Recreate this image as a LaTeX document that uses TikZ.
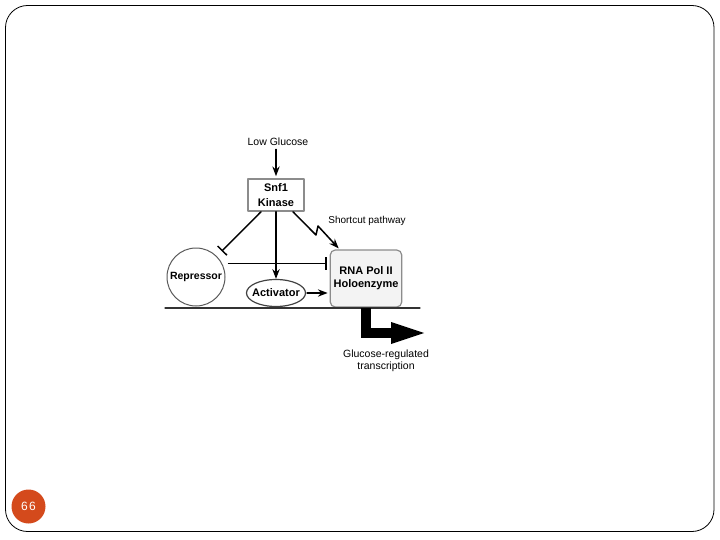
\documentclass[tikz,border=0pt]{standalone}
\usepackage{fontspec}
\setmainfont{Liberation Sans}
\usetikzlibrary{arrows.meta,shapes.geometric}
\definecolor{slidered}{HTML}{D44A1C}
\definecolor{boxgray}{HTML}{8C8C8C}
\definecolor{polfill}{HTML}{F3F3F3}

\begin{document}
\begin{tikzpicture}[x=1pt, y=-1pt, >=Stealth, line cap=round, line join=round,
    lbl/.style={font=\fontsize{10}{12}\selectfont},
    bold/.style={font=\fontsize{10.5}{14}\selectfont\bfseries},
    act/.style={->, line width=1.5pt},
    inhibit/.style={-{Bar[width=13pt, line width=1.5pt]}, line width=1.5pt}]
  \useasboundingbox (0,0) rectangle (720,540);

  % Slide frame and page number
  \draw[line width=0.8pt, rounded corners=22pt] (5.5,5.5) rectangle (714,531.5);
  \node[circle, fill=slidered, minimum size=34pt, inner sep=0pt, text=white,
        font=\fontsize{12}{13}\selectfont] (pg) at (28.5,506.5) {6\hspace{1.5pt}6};

  % Nodes
  \node[lbl, font=\fontsize{10.5}{12}\selectfont] (lowglc) at (278,142) {Low Glucose};
  \node[draw=boxgray, line width=1.6pt, align=center, inner sep=0pt,
        minimum width=56pt, minimum height=32pt,
        font=\fontsize{11}{15}\selectfont\bfseries] (snf) at (276,195) {Snf1\\Kinase};
  \node[circle, draw=black!65, line width=1pt, inner sep=0pt,
        minimum size=58pt] (rep) at (196,277) {};
  \node[bold] (reptxt) at (rep) {Repressor};
  \node[ellipse, draw=black!75, line width=1.2pt, inner sep=0pt,
        minimum width=59pt, minimum height=27pt] (act) at (276,293) {};
  \node[bold, font=\fontsize{11}{14}\selectfont\bfseries] (acttxt) at (act) {Activator};
  \node[draw=boxgray, fill=polfill, line width=1.2pt, rounded corners=5pt,
        align=center, minimum width=70pt, minimum height=57pt,
        font=\fontsize{11}{13}\selectfont\bfseries] (pol) at (366,278.5) {RNA Pol II\\Holoenzyme};
  \node[lbl] (short) at (367,221) {Shortcut pathway};
  \node[lbl, align=center, font=\fontsize{10.5}{12}\selectfont] (glcreg) at (386,361)
        {Glucose-regulated\\transcription};

  % Coordinates
  \coordinate (zz1) at (316,235);
  \coordinate (zz2) at (318,226);
  \coordinate (inh) at ([yshift=15pt,xshift=-3pt]pol.west);
  \coordinate (trtip) at (424,333);

  % Connectors
  \draw[act, shorten >=2pt] (lowglc.south -| snf.north) -- (snf.north);
  \draw[inhibit, shorten >=7pt] ([xshift=-15pt]snf.south) -- (rep);
  \draw[act] (snf.south) -- (act.north);
  \draw[act] ([xshift=17pt]snf.south) -- (zz1) -- (zz2) -- ([xshift=9pt,yshift=1pt]pol.north west);
  \draw[inhibit, shorten <=3pt] (rep.east |- inh) -- (inh);
  \draw[act, shorten <=1pt, shorten >=2pt] (act.east) -- (act.east -| pol.west);

  % Baseline and transcription arrow
  \draw[line width=1.2pt, black!80] (165,308) -- (420,308);
  \draw[line width=10pt, line cap=butt, line join=miter]
    (pol.south) -- (pol.south |- trtip) -- ([xshift=-30pt]trtip);
  \fill ([xshift=-33pt,yshift=11pt]trtip) -- (trtip) -- ([xshift=-33pt,yshift=-11pt]trtip) -- cycle;
\end{tikzpicture}
\end{document}
